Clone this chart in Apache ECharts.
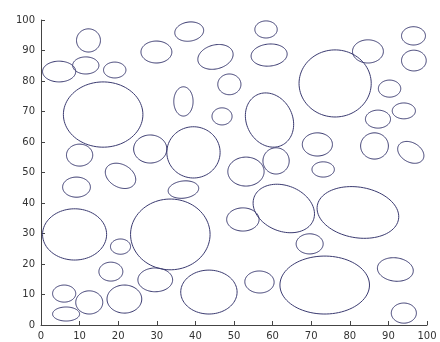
<!DOCTYPE html>
<html><head><meta charset="utf-8">
<script src="https://cdn.jsdelivr.net/npm/echarts@6/dist/echarts.min.js"></script>
<style>html,body{margin:0;padding:0;background:#fff}#c{width:440px;height:342px}</style>
</head><body><div id="c"></div>
<script>
// ellipse centres, semi-axes (data units) and rotation (degrees)
var cx = [12.3,4.7,11.6,19.1,16.1,29.9,38.4,36.9,45.2,58.3,59.1,48.8,46.9,59.2,76.2,84.7,96.5,96.6,90.3,94.0,87.3,
          10.0,28.3,39.5,53.1,60.9,71.6,73.1,86.4,95.8,9.2,20.6,36.9,52.3,62.9,82.1,8.7,33.5,20.6,69.6,
          18.1,29.6,56.6,73.5,91.8,6.0,12.5,21.6,43.5,6.5,94.0];
var cy = [93.3,83.1,85.1,83.6,69.0,89.5,96.2,73.3,87.9,96.9,88.5,78.9,68.4,67.2,79.2,89.7,94.8,86.7,77.5,70.2,67.5,
          55.7,57.7,56.6,50.3,53.8,59.2,51.0,58.7,56.6,45.2,48.9,44.4,34.6,38.2,36.9,29.7,29.7,25.7,26.6,
          17.5,14.8,14.1,13.1,18.2,10.3,7.4,8.5,10.8,3.6,3.9];
var rx = [3.1,4.3,3.4,2.9,10.3,4.0,3.8,2.5,4.8,2.9,4.7,3.0,2.6,6.1,9.35,4.0,3.1,3.2,2.9,3.0,3.25,
          3.4,4.3,6.9,4.7,3.4,3.9,2.9,3.6,4.0,3.6,4.6,4.0,4.2,8.8,10.8,8.3,10.3,2.6,3.5,
          3.1,4.5,3.8,11.6,4.7,3.0,3.5,4.5,7.3,3.5,3.25];
var ry = [3.8,3.4,2.8,2.6,10.7,3.6,3.1,4.8,3.8,2.8,3.6,3.4,2.8,9.0,11.0,3.8,3.0,3.4,2.8,2.6,2.95,
          3.6,4.6,8.4,4.75,4.3,3.8,2.5,4.3,2.9,3.3,3.4,2.8,3.8,7.0,8.2,8.4,11.6,2.5,3.3,
          3.1,3.9,3.6,9.5,3.8,2.8,3.8,4.6,7.2,2.3,3.3];
var angle = [0,0,0,0,0,0,18,0,30,0,10,0,0,12,0,0,0,0,0,0,0,
             0,0,0,0,0,0,0,0,-50,0,-50,12,0,-45,-18,0,0,0,0,
             0,0,-10,0,-15,0,0,0,0,0,0];
var xTicks = [0,10,20,30,40,50,60,70,80,90,100];
var yTicks = [0,10,20,30,40,50,60,70,80,90,100];

var data = cx.map(function(v,i){ return [v, cy[i], rx[i], ry[i], angle[i]]; });

var chart = echarts.init(document.getElementById('c'), null, {renderer:'canvas'});
var axisCommon = {
  min: 0, max: 100, interval: 10,
  axisLine: {show:true, lineStyle:{color:'#444', width:1}},
  axisTick: {show:true, inside:true, length:4, lineStyle:{color:'#444'}},
  axisLabel: {color:'#333', fontSize:10, fontFamily:'DejaVu Sans', margin:6},
  splitLine: {show:false}
};
chart.setOption({
  animation: false,
  backgroundColor: '#fff',
  grid: {left:41, top:20, width:386, height:305},
  xAxis: Object.assign({type:'value'}, axisCommon, {axisLabel:Object.assign({}, axisCommon.axisLabel, {formatter:function(v){return xTicks.indexOf(v)>=0?String(v):'';}})}),
  yAxis: Object.assign({type:'value'}, axisCommon, {axisLabel:Object.assign({}, axisCommon.axisLabel, {formatter:function(v){return yTicks.indexOf(v)>=0?String(v):'';}})}),
  series: [{
    type: 'custom',
    clip: false,
    data: data,
    encode: {x:0, y:1},
    renderItem: function(params, api){
      var x0 = api.value(0), y0 = api.value(1), a = api.value(2), b = api.value(3);
      var th = api.value(4) * Math.PI / 180;
      var pts = [];
      var n = 90;
      for (var k = 0; k < n; k++) {
        var t = 2 * Math.PI * k / n;
        var ex = a * Math.cos(t), ey = b * Math.sin(t);
        var dx = x0 + ex * Math.cos(th) - ey * Math.sin(th);
        var dy = y0 + ex * Math.sin(th) + ey * Math.cos(th);
        pts.push(api.coord([dx, dy]));
      }
      return {type:'polygon', shape:{points:pts}, style:{fill:null, stroke:'#3a3a70', lineWidth:1}};
    }
  }]
});
</script></body></html>
